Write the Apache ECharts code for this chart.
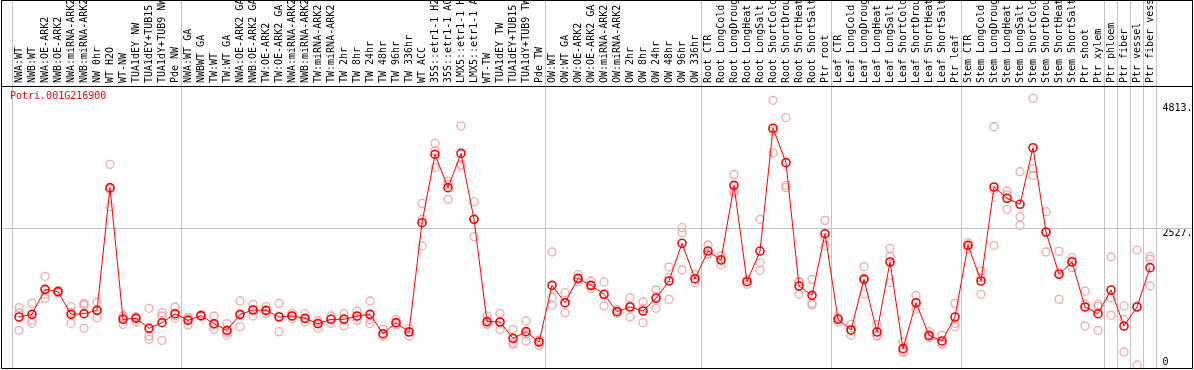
<!DOCTYPE html>
<html>
<head>
<meta charset="utf-8">
<script src="https://cdn.jsdelivr.net/npm/echarts@6.0.0/dist/echarts.min.js"></script>
<style>
html,body{margin:0;padding:0;background:#fff;}
#chart{width:1194px;height:370px;}
</style>
</head>
<body>
<div id="chart"></div>
<script>
const geneId = 'Potri.001G216900';

const categories = [
  'NWA:WT','NWB:WT','NWA:OE-ARK2','NWB:OE-ARK2','NWA:miRNA-ARK2','NWB:miRNA-ARK2','NW 0hr','WT H2O','WT-NW',
  'TUA1dEY NW','TUA1dEY+TUB15 NW','TUA1dY+TUB9 NW','Pde NW',
  'NWA:WT GA','NWBWT GA','TW:WT','TW:WT GA','NWA:OE-ARK2 GA','NWB:OE-ARK2 GA','TW:OE-ARK2','TW:OE-ARK2 GA',
  'NWA:miRNA-ARK2','NWB:miRNA-ARK2','TW:miRNA-ARK2','TW:miRNA-ARK2','TW 2hr','TW 8hr','TW 24hr','TW 48hr','TW 96hr','TW 336hr',
  'WT ACC','35S::etr1-1 H2O','35S::etr1-1 ACC','LMX5::etr1-1 H2O','LMX5::etr1-1 ACC','WT-TW','TUA1dEY TW','TUA1dEY+TUB15 TW','TUA1dY+TUB9 TW','Pde TW',
  'OW:WT','OW:WT GA','OW:OE-ARK2','OW:OE-ARK2 GA','OW:miRNA-ARK2','OW:miRNA-ARK2','OW 2hr','OW 8hr','OW 24hr','OW 48hr','OW 96hr','OW 336hr',
  'Root CTR','Root LongCold','Root LongDrought','Root LongHeat','Root LongSalt','Root ShortCold','Root ShortDrought','Root ShortHeat','Root ShortSalt','Ptr root',
  'Leaf CTR','Leaf LongCold','Leaf LongDrought','Leaf LongHeat','Leaf LongSalt','Leaf ShortCold','Leaf ShortDrought','Leaf ShortHeat','Leaf ShortSalt','Ptr leaf',
  'Stem CTR','Stem LongCold','Stem LongDrought','Stem LongHeat','Stem LongSalt','Stem ShortCold','Stem ShortDrought','Stem ShortHeat','Stem ShortSalt','Ptr shoot','Ptr xylem',
  'Ptr phloem','Ptr fiber','Ptr vessel','Ptr fiber vessel'
];

// category indices where a group separator line is drawn
const groupBoundaries = [0, 13, 41, 53, 63, 73, 84, 85, 86, 87, 88];

const meanValues = [
  905, 954, 1411, 1369, 954, 966, 1027, 3271, 863, 881, 698, 802, 966,
  844, 930, 783, 661, 954, 1033, 1027, 905, 924, 881, 783, 863, 863, 924, 954, 600, 802, 631,
  2630, 3879, 3271, 3897, 2692, 821, 814, 515, 637, 448,
  1484, 1167, 1612, 1484, 1320, 1003, 1088, 1015, 1247, 1564, 2253, 1606,
  2112, 1948, 3313, 1551, 2112, 4357, 3728, 1472, 1301, 2429,
  863, 668, 1594, 631, 1911, 326, 1167, 570, 467, 905,
  2216, 1564, 3283, 3076, 2966, 4001, 2460, 1686, 1911, 1088, 966,
  1399, 741, 1088, 1808
];

const rep1 = [
  1075, 1155, 1649, 1390, 1094, 1155, 1180, 3697, 924, 910, 1064, 985, 1088,
  900, 950, 924, 783, 1198, 1137, 1094, 1155, 972, 966, 844, 924, 966, 1015, 1198, 680, 860, 692,
  2984, 4080, 3392, 4397, 3015, 924, 972, 680, 832, 485,
  2094, 1350, 1686, 1564, 1545, 1040, 1259, 1180, 1399, 1820, 2539, 1686,
  2222, 2021, 3514, 1594, 2692, 4868, 4550, 1545, 1594, 2673,
  900, 771, 1826, 771, 2161, 448, 1301, 637, 570, 1155,
  2265, 1747, 4385, 3210, 3563, 4904, 2832, 2106, 1990, 1381, 1137,
  2003, 1107, 2130, 2009
];

const rep2 = [
  978, 850, 1320, 1350, 790, 1125, 1020, 3240, 771, 814, 558, 924, 881,
  759, 915, 680, 570, 728, 924, 972, 637, 881, 814, 698, 790, 741, 844, 783, 558, 790, 558,
  2692, 3940, 3057, 3697, 2375, 771, 680, 405, 467, 387,
  1259, 985, 1551, 1423, 1107, 970, 905, 802, 1064, 1228, 2448, 1533,
  2051, 1857, 3210, 1503, 1899, 3907, 3313, 1320, 1155, 2204,
  814, 570, 1332, 558, 2009, 253, 1046, 527, 405, 728,
  2161, 1320, 3228, 2874, 2741, 3618, 2094, 1228, 1808, 741, 661,
  1259, 265, 27, 1960
];

const rep3 = [
  662, 790, 1247, 1370, 990, 698, 890, 2923, 900, 895, 497, 479, 930,
  870, 925, 760, 620, 935, 1040, 1015, 920, 920, 870, 800, 870, 880, 910, 863, 570, 760, 640,
  2204, 3636, 3331, 3667, 2690, 790, 800, 436, 588, 470,
  1119, 1160, 1600, 1470, 1310, 1000, 1100, 1060, 1280, 1625, 1765, 1600,
  2060, 1965, 3167, 1556, 1759, 4309, 3271, 1550, 1125, 2356,
  870, 660, 1620, 570, 1533, 280, 1150, 550, 430, 790,
  2220, 1620, 2216, 3140, 2582, 3496, 2450, 1720, 1930, 1140, 1100,
  936, 863, 1107, 1472
];

const yTickValues = [0, 2527, 4813];
const yTickLabels = ['0', '2527.', '4813.'];
const gridLineValue = 2527;
const yMax = 5130;

const MONO = '"DejaVu Sans Mono", "Liberation Mono", monospace';
const zeroLabelLift = 160; // "0" label is drawn just above the bottom edge
const yLabelPositions = yTickValues.map(v => v === 0 ? zeroLabelLift : v);

const repData = [];
[rep1, rep2, rep3].forEach(rep => rep.forEach((v, i) => repData.push([i, v])));

const chart = echarts.init(document.getElementById('chart'), null, {renderer: 'canvas'});

chart.setOption({
  animation: false,
  backgroundColor: '#fff',
  title: {
    text: geneId, left: 10, top: 91, padding: 0,
    textStyle: {color: '#ff0000', fontSize: 10, fontWeight: 'normal', fontFamily: MONO}
  },
  grid: [
    {left: 12.5, right: 37.5, top: 86, bottom: 3.5, outerBoundsMode: 'none'},
    {left: 12.5, right: 37.5, top: 0, bottom: 1.5, outerBoundsMode: 'none'},
    {left: 1.5, right: 1.5, top: 86, bottom: 3.5, outerBoundsMode: 'none'}
  ],
  xAxis: [
    {
      type: 'category', gridIndex: 0, data: categories, position: 'top', boundaryGap: true,
      axisLine: {show: false}, axisTick: {show: false}, splitLine: {show: false},
      axisLabel: {rotate: 90, interval: 0, margin: 3, fontSize: 10, color: '#000', fontFamily: MONO, hideOverlap: false}
    },
    {type: 'value', gridIndex: 1, min: 0, max: categories.length, show: false},
    {type: 'value', gridIndex: 2, min: 0, max: 1, show: false}
  ],
  yAxis: [
    {
      type: 'value', gridIndex: 0, position: 'right', min: 0, max: yMax,
      axisLine: {show: false}, axisTick: {show: false}, splitLine: {show: false},
      axisLabel: {
        customValues: yLabelPositions,
        formatter: v => yTickLabels[yLabelPositions.indexOf(v)],
        align: 'left', verticalAlign: 'top', margin: 6, fontSize: 10, color: '#000', fontFamily: MONO
      }
    },
    {type: 'value', gridIndex: 1, min: 0, max: 1, show: false},
    {type: 'value', gridIndex: 2, min: 0, max: yMax, show: false}
  ],
  graphic: [
    {type: 'rect', shape: {x: 1.5, y: 0.5, width: 1191, height: 368}, style: {fill: 'none', stroke: '#000', lineWidth: 1}, z: 100},
    {type: 'line', shape: {x1: 1.5, y1: 86.5, x2: 1192.5, y2: 86.5}, style: {stroke: '#000', lineWidth: 1}, z: 100}
  ],
  series: [
    {
      type: 'scatter', xAxisIndex: 1, yAxisIndex: 1, data: [[-10, -10]], symbolSize: 0, silent: true,
      markLine: {
        silent: true, symbol: ['none', 'none'], label: {show: false}, animation: false,
        lineStyle: {color: '#c4c4c4', type: 'solid', width: 1},
        data: groupBoundaries.map(b => ({xAxis: b}))
      }
    },
    {
      type: 'scatter', xAxisIndex: 2, yAxisIndex: 2, data: [[-10, -10]], symbolSize: 0, silent: true,
      markLine: {
        silent: true, symbol: ['none', 'none'], label: {show: false}, animation: false,
        lineStyle: {color: '#c4c4c4', type: 'solid', width: 1},
        data: [{yAxis: gridLineValue}]
      }
    },
    {
      name: 'replicates', type: 'scatter', xAxisIndex: 0, yAxisIndex: 0, data: repData,
      symbol: 'circle', symbolSize: 8, z: 3,
      itemStyle: {color: 'rgba(255,255,255,0)', borderColor: '#f29494', borderWidth: 1.3}
    },
    {
      name: 'mean', type: 'line', xAxisIndex: 0, yAxisIndex: 0, data: meanValues,
      symbol: 'circle', symbolSize: 8, showSymbol: true, z: 5,
      lineStyle: {color: '#ff0000', width: 1},
      itemStyle: {color: 'rgba(255,255,255,0)', borderColor: '#ff0000', borderWidth: 1.6}
    }
  ]
});
</script>
</body>
</html>
